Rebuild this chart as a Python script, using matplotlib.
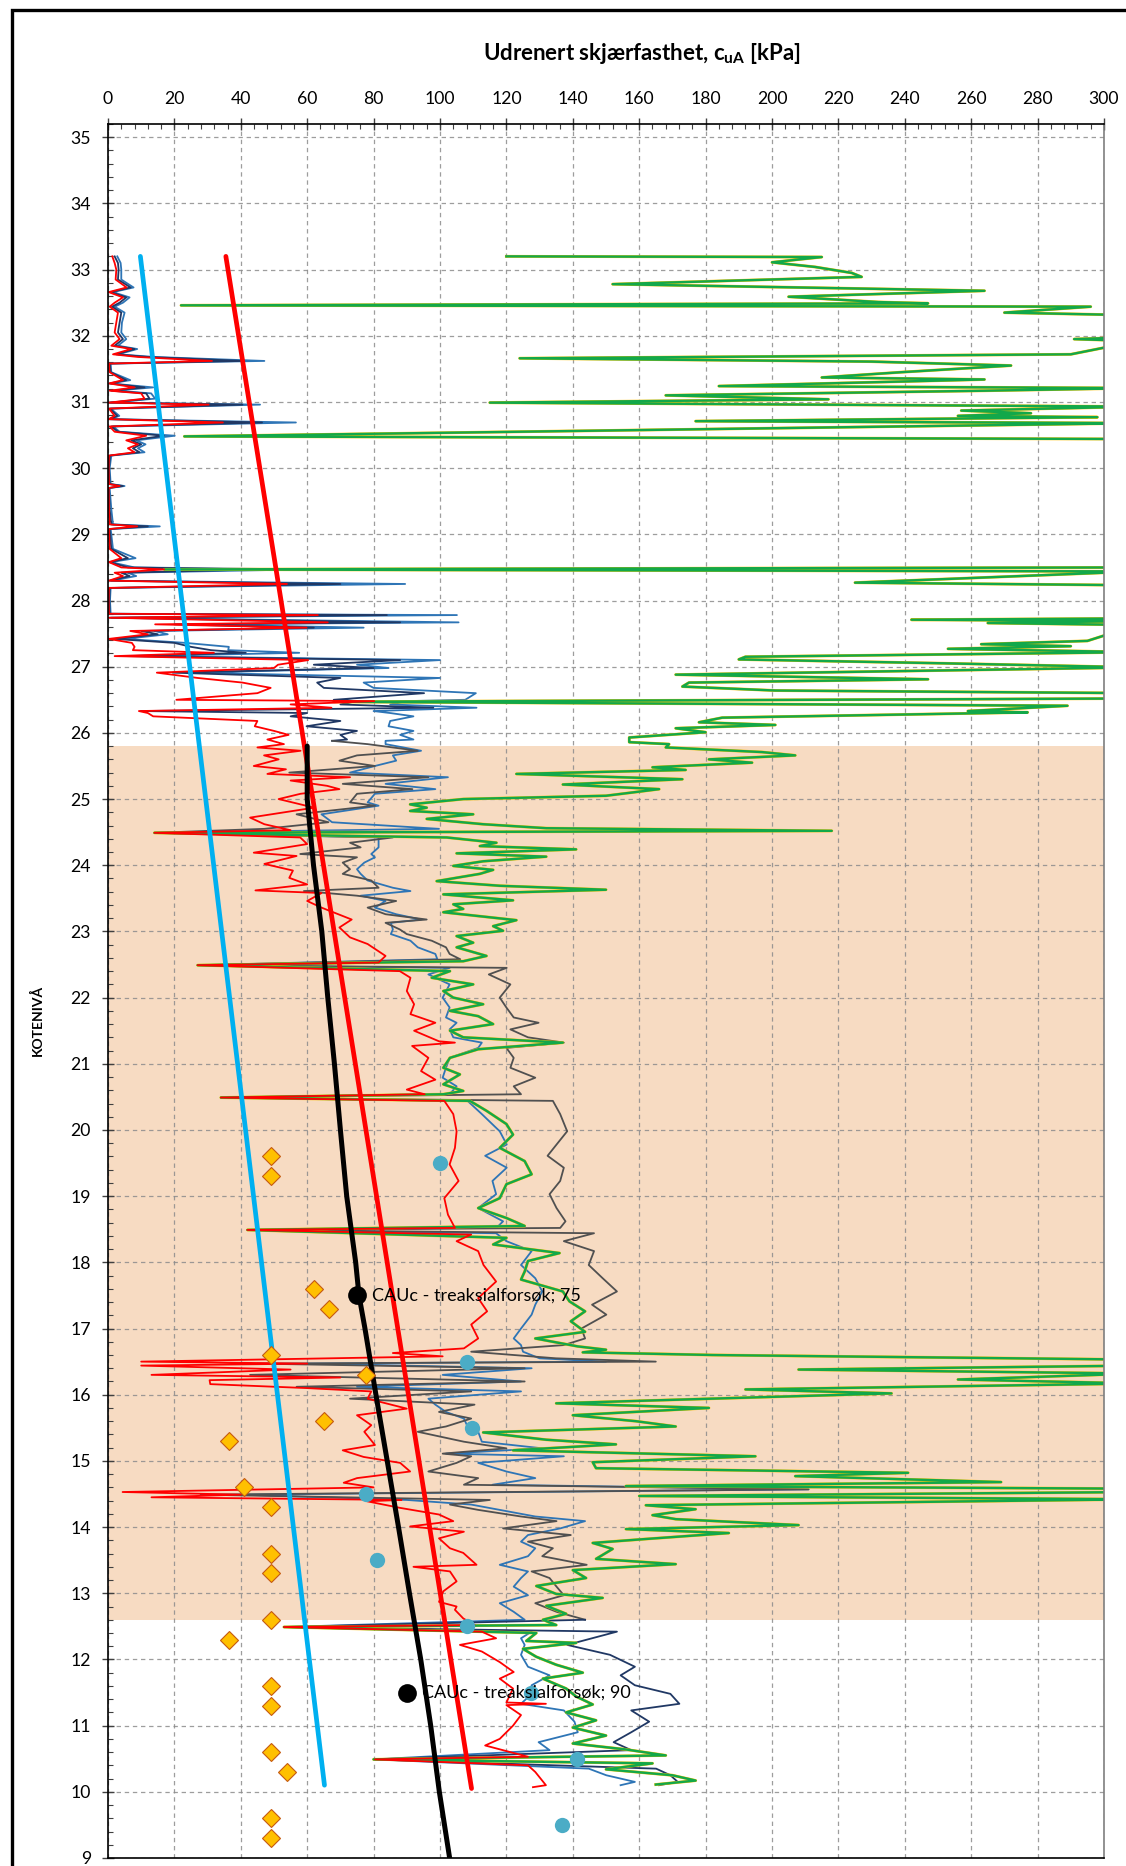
import numpy as np
import matplotlib
matplotlib.use("Agg")
import matplotlib.pyplot as plt
from matplotlib.patches import Rectangle
from matplotlib.ticker import MultipleLocator

plt.rcParams['font.family'] = ['Lato', 'DejaVu Sans']
plt.rcParams['mathtext.fontset'] = 'custom'
plt.rcParams['mathtext.rm'] = 'Lato'
plt.rcParams['mathtext.bf'] = 'Lato:bold'

# ---------- data ----------
# upper zone (33.2 - 25.9): red / navy / blue share one depth grid
d_top = [33.20, 33.10, 33.00, 32.85, 32.73, 32.66, 32.58, 32.50, 32.44, 32.35, 32.20, 32.05, 31.95, 31.85,
         31.80, 31.72, 31.68, 31.62, 31.58, 31.45, 31.33, 31.28, 31.22, 31.17, 31.13, 31.05, 30.99, 30.96,
         30.90, 30.79, 30.74, 30.69, 30.63, 30.55, 30.49, 30.42, 30.36, 30.30, 30.24, 30.19, 30.00, 29.76,
         29.73, 29.70, 29.38, 29.15, 29.12, 29.08, 28.78, 28.64, 28.58, 28.50, 28.47, 28.42, 28.37, 28.30,
         28.25, 28.19, 28.00, 27.80, 27.78, 27.74, 27.67, 27.64, 27.59, 27.54, 27.49, 27.42, 27.36, 27.30,
         27.25, 27.21, 27.16, 27.10, 27.03, 26.98, 26.91, 26.83, 26.76, 26.68, 26.60, 26.50, 26.48, 26.43,
         26.38, 26.33, 26.30, 26.25, 26.18, 26.10, 26.03, 25.97, 25.90]
red_top = [1.3, 2.0, 2.5, 2.3, 5.6, 0.2, 4.5, 2.0, 0.5, 3.0, 2.5, 2.0, 3.5, 1.0,
           7.0, 1.5, 9.0, 31.3, 0.3, 0.5, 4.5, 0.3, 8.0, 0.5, 10.0, 11.0, 0.2, 30.3,
           0.3, 2.0, 0.2, 34.6, 0.5, 2.0, 11.5, 5.5, 9.0, 6.0, 8.0, 0.3, 0.2, 0.3,
           3.5, 0.2, 0.3, 0.5, 8.8, 0.3, 0.5, 4.0, 0.3, 4.0, 16.9, 2.0, 4.5, 0.3,
           53.9, 0.3, 0.2, 0.3, 63.2, 0.2, 66.2, 14.2, 59.8, 6.7, 12.0, 0.2, 7.2, 8.0,
           7.5, 31.9, 2.0, 60.3, 51.2, 50.0, 14.7, 27.0, 40.5, 49.0, 45.0, 20.6, 80.2, 55.0,
           67.3, 9.3, 12.0, 13.6, 45.0, 44.2, 50.0, 54.4, 48.0]
navy_top = [2.0, 3.0, 3.2, 3.0, 6.8, 0.8, 5.5, 3.5, 1.2, 4.0, 3.5, 3.0, 4.5, 2.0,
            8.0, 2.5, 12.0, 40.5, 0.5, 0.8, 5.5, 0.5, 11.0, 1.0, 11.5, 12.5, 0.5, 40.5,
            0.5, 2.8, 0.4, 46.4, 1.0, 3.0, 16.9, 7.0, 10.0, 7.5, 9.5, 0.6, 0.3, 0.5,
            4.5, 0.3, 0.5, 1.0, 12.0, 0.5, 1.0, 6.0, 0.5, 6.0, 44.8, 4.0, 6.5, 0.5,
            70.0, 0.5, 0.4, 0.5, 84.0, 0.5, 88.0, 20.0, 62.0, 10.0, 15.0, 2.0, 20.0, 25.0,
            31.0, 41.5, 6.0, 88.0, 62.0, 80.0, 19.5, 70.0, 63.0, 65.0, 95.2, 68.0, 75.0, 70.0,
            98.0, 9.9, 60.0, 55.0, 70.0, 59.8, 75.0, 70.0, 72.0]
blue_top = [2.8, 3.8, 4.0, 4.0, 7.7, 1.5, 6.5, 4.5, 2.0, 5.0, 4.2, 4.0, 5.5, 3.0,
            8.8, 3.0, 14.0, 47.1, 0.8, 1.0, 6.7, 0.8, 13.6, 2.0, 13.0, 14.2, 0.8, 45.8,
            0.8, 3.4, 0.6, 56.6, 1.5, 3.5, 20.1, 8.5, 11.3, 9.0, 11.0, 1.0, 0.5, 0.8,
            5.0, 0.5, 1.0, 1.5, 15.6, 0.8, 1.5, 8.3, 0.8, 8.0, 58.4, 6.0, 8.5, 1.0,
            89.5, 0.8, 0.6, 0.8, 105.1, 1.0, 105.6, 25.0, 77.0, 14.0, 18.0, 5.0, 23.3, 36.4,
            36.2, 57.6, 10.0, 100.0, 75.0, 84.5, 25.4, 100.0, 77.0, 80.0, 110.8, 107.6, 90.0, 85.0,
            111.0, 80.0, 85.0, 92.0, 85.0, 84.5, 92.0, 88.0, 92.0]

# lower zone (25.9 - 10.1): gray/navy and blue share one depth grid
d_low = [25.88, 25.83, 25.73, 25.66, 25.58, 25.50, 25.40, 25.33, 25.23, 25.15, 25.08, 24.95, 24.90, 24.77,
         24.65, 24.55, 24.49, 24.42, 24.34, 24.27, 24.17, 24.12, 24.04, 23.94, 23.87, 23.77, 23.66, 23.61,
         23.54, 23.46, 23.36, 23.26, 23.18, 23.13, 23.03, 22.96, 22.86, 22.76, 22.66, 22.58, 22.49, 22.45,
         22.35, 22.20, 22.00, 21.85, 21.70, 21.62, 21.52, 21.40, 21.32, 21.24, 21.09, 20.94, 20.79, 20.66,
         20.54, 20.49, 20.44, 20.24, 19.98, 19.78, 19.61, 19.43, 19.23, 19.03, 18.82, 18.62, 18.52, 18.49,
         18.44, 18.32, 18.17, 17.96, 17.76, 17.56, 17.36, 17.21, 17.00, 16.85, 16.75, 16.65, 16.55, 16.50,
         16.47, 16.40, 16.30, 16.20, 16.12, 16.05, 15.94, 15.85, 15.74, 15.64, 15.52, 15.44, 15.29, 15.19,
         15.11, 15.07, 14.97, 14.84, 14.74, 14.64, 14.57, 14.49, 14.41, 14.34, 14.26, 14.16, 14.09, 13.98,
         13.88, 13.78, 13.68, 13.56, 13.43, 13.33, 13.23, 13.10, 12.97, 12.85, 12.72, 12.60, 12.49, 12.42,
         12.32, 12.22, 12.07, 11.89, 11.76, 11.61, 11.48, 11.33, 11.23, 11.06, 10.90, 10.75, 10.63, 10.49,
         10.35, 10.25, 10.15, 10.10]
gray_low = [67.5, 78.2, 93.3, 75.0, 69.7, 80.4, 54.6, 96.5, 70.7, 91.7, 75.0, 72.9, 80.4, 56.8,
            66.4, 47.1, 14.0, 85.8, 72.9, 76.1, 57.9, 75.0, 70.7, 72.9, 70.7, 79.3, 81.5, 59.0,
            75.0, 86.8, 78.2, 83.6, 96.0, 83.6, 87.9, 90.0, 97.5, 101.8, 102.9, 106.1, 27.0, 120.1,
            114.7, 121.2, 118.0, 120.0, 122.2, 129.7, 121.2, 126.5, 137.3, 120.0, 122.2, 121.2, 128.7, 122.2,
            124.4, 34.0, 134.0, 136.2, 138.3, 135.1, 132.4, 137.3, 136.2, 133.0, 135.1, 137.8, 136.2, 42.0,
            146.4, 137.3, 146.4, 144.8, 149.0, 153.3, 145.8, 150.1, 142.6, 143.7, 137.3, 109.4, 135.0, 165.0,
            45.0, 125.5, 42.8, 125.5, 56.8, 109.4, 72.9, 110.4, 99.7, 109.4, 101.8, 93.3, 107.2, 120.0,
            100.8, 109.4, 105.0, 96.5, 111.5, 107.2, 211.0, 27.9, 115.0, 103.0, 111.5, 124.4, 135.1, 119.0,
            139.4, 126.5, 134.0, 130.8, 144.2, 127.6, 133.0, 135.1, 137.3, 128.7, 135.1, 143.7, 53.0, 153.3,
            145.8, 138.3, 151.2, 158.7, 154.4, 158.7, 169.4, 172.1, 157.6, 163.0, 157.6, 152.3, 157.6, 80.0,
            165.1, 169.4, 171.6, 166.0]
blue_low = [83.6, 83.6, 94.3, 85.8, 86.8, 80.4, 72.9, 102.4, 83.6, 98.6, 80.4, 78.2, 81.5, 64.3,
            67.5, 99.7, 14.0, 81.5, 81.5, 81.5, 79.3, 80.4, 77.2, 75.0, 76.1, 78.2, 85.8, 91.1,
            76.1, 83.6, 80.4, 86.8, 94.3, 85.2, 85.8, 85.2, 91.1, 93.3, 98.6, 99.2, 27.0, 102.9,
            96.5, 102.9, 100.8, 102.9, 101.8, 105.0, 102.9, 104.0, 112.6, 111.5, 102.9, 101.8, 100.8, 105.0,
            102.9, 34.0, 108.3, 112.6, 118.0, 120.1, 113.6, 120.1, 115.8, 116.9, 111.5, 119.0, 117.0, 42.0,
            116.9, 120.0, 127.6, 124.4, 128.7, 130.8, 128.7, 127.6, 124.4, 122.2, 124.4, 125.0, 130.0, 150.0,
            60.0, 127.6, 100.8, 124.4, 75.0, 124.4, 96.5, 98.6, 101.8, 107.2, 108.3, 111.5, 112.6, 130.8,
            101.8, 137.3, 111.5, 120.0, 128.7, 115.8, 211.0, 40.0, 90.0, 109.4, 118.0, 128.7, 143.7, 136.2,
            126.5, 124.4, 128.7, 126.5, 118.0, 126.5, 124.4, 122.2, 126.5, 118.0, 122.2, 125.5, 53.0, 127.6,
            124.4, 125.5, 124.4, 126.5, 133.0, 127.6, 127.6, 124.4, 137.3, 140.5, 141.5, 129.7, 133.0, 80.0,
            144.8, 150.1, 158.7, 154.4]

# red trace below 25.9
d_red_low = [25.83, 25.78, 25.73, 25.66, 25.60, 25.50, 25.45, 25.38, 25.33, 25.28, 25.20, 25.15, 25.08, 25.00,
             24.87, 24.72, 24.62, 24.53, 24.49, 24.42, 24.32, 24.19, 24.14, 24.02, 23.92, 23.81, 23.71, 23.62,
             23.58, 23.46, 23.36, 23.18, 23.06, 22.91, 22.81, 22.63, 22.53, 22.49, 22.40, 22.30, 22.10, 21.90,
             21.75, 21.62, 21.50, 21.34, 21.32, 21.27, 21.09, 20.89, 20.76, 20.61, 20.54, 20.49, 20.44, 20.24,
             19.98, 19.73, 19.48, 19.23, 18.97, 18.72, 18.52, 18.49, 18.42, 18.32, 18.17, 17.96, 17.71, 17.46,
             17.26, 17.06, 16.85, 16.70, 16.63, 16.58, 16.50, 16.47, 16.44, 16.38, 16.30, 16.26, 16.22, 16.16,
             16.10, 16.05, 15.94, 15.79, 15.69, 15.54, 15.44, 15.24, 15.16, 15.06, 14.97, 14.84, 14.74, 14.67,
             14.60, 14.53, 14.49, 14.45, 14.41, 14.39, 14.29, 14.19, 14.09, 14.01, 13.93, 13.83, 13.68, 13.61,
             13.43, 13.40, 13.33, 13.18, 13.03, 12.87, 12.80, 12.75, 12.62, 12.52, 12.49, 12.42, 12.32, 12.22,
             12.12, 11.96, 11.81, 11.71, 11.56, 11.35, 11.33, 11.31, 11.16, 11.00, 10.80, 10.70, 10.53, 10.49,
             10.40, 10.30, 10.10, 10.07]
red_low = [53.0, 45.0, 58.0, 47.0, 51.4, 43.9, 53.6, 48.0, 72.9, 55.0, 66.0, 69.7, 58.0, 51.4,
           62.1, 42.8, 47.1, 55.0, 14.0, 57.9, 60.0, 43.9, 56.8, 47.1, 55.7, 54.6, 60.0, 44.4,
           64.3, 60.0, 64.3, 73.4, 69.7, 72.9, 78.2, 83.6, 81.5, 27.0, 87.9, 91.1, 90.0, 92.2,
           91.1, 98.6, 92.2, 99.7, 104.5, 91.6, 96.5, 94.3, 98.6, 90.0, 95.4, 34.0, 101.3, 104.0,
           105.0, 104.5, 102.9, 105.6, 101.3, 102.4, 104.5, 42.0, 109.4, 105.0, 111.5, 113.1, 116.9, 111.5,
           114.2, 109.4, 111.5, 107.2, 85.8, 100.8, 10.0, 60.0, 10.0, 55.0, 13.1, 70.0, 30.6, 30.8,
           60.0, 79.3, 78.2, 90.0, 75.0, 79.3, 77.2, 80.4, 70.7, 77.0, 88.0, 91.0, 75.0, 71.0,
           80.0, 4.4, 40.0, 13.1, 88.4, 78.0, 88.0, 99.7, 104.0, 91.0, 107.2, 99.7, 103.0, 107.0,
           111.0, 92.0, 103.0, 105.0, 101.0, 99.7, 105.0, 104.5, 107.0, 110.4, 53.0, 112.6, 116.9, 106.0,
           112.6, 118.0, 122.2, 118.0, 122.0, 120.0, 131.9, 120.0, 124.4, 122.0, 118.0, 113.6, 126.5, 80.4,
           126.5, 128.7, 131.9, 128.0]

# green (and orange underneath) trace
d_green = [33.20, 33.19, 33.11, 33.04, 32.95, 32.89, 32.78, 32.68, 32.59, 32.51, 32.49, 32.46, 32.44, 32.35,
           32.31, 31.98, 31.95, 31.92, 31.72, 31.66, 31.61, 31.57, 31.55, 31.45, 31.37, 31.34, 31.24, 31.21,
           31.17, 31.10, 31.04, 30.99, 30.93, 30.87, 30.83, 30.79, 30.77, 30.71, 30.68, 30.48, 30.44, 28.50,
           28.47, 28.44, 28.27, 28.23, 27.73, 27.71, 27.69, 27.66, 27.63, 27.39, 27.34, 27.31, 27.27, 27.22,
           27.15, 27.11, 27.05, 26.99, 26.88, 26.81, 26.76, 26.70, 26.64, 26.60, 26.52, 26.47, 26.41, 26.33,
           26.31, 26.23, 26.16, 26.12, 26.07, 26.01, 25.93, 25.86, 25.83, 25.78, 25.71, 25.66, 25.60, 25.55,
           25.48, 25.44, 25.38, 25.30, 25.22, 25.15, 25.05, 25.00, 24.92, 24.87, 24.82, 24.77, 24.70, 24.62,
           24.56, 24.52, 24.49, 24.42, 24.34, 24.29, 24.24, 24.18, 24.13, 24.06, 23.99, 23.93, 23.87, 23.76,
           23.69, 23.63, 23.56, 23.47, 23.41, 23.34, 23.29, 23.17, 23.08, 23.01, 22.93, 22.83, 22.76, 22.63,
           22.55, 22.49, 22.40, 22.30, 22.20, 22.10, 22.00, 21.90, 21.80, 21.72, 21.60, 21.50, 21.40, 21.32,
           21.22, 21.09, 20.94, 20.84, 20.69, 20.59, 20.54, 20.49, 20.44, 20.29, 20.09, 19.93, 19.73, 19.53,
           19.33, 19.18, 18.97, 18.82, 18.67, 18.55, 18.49, 18.37, 18.27, 18.14, 18.02, 17.86, 17.74, 17.56,
           17.41, 17.26, 17.11, 16.95, 16.85, 16.73, 16.68, 16.64, 16.60, 16.53, 16.44, 16.38, 16.32, 16.23,
           16.17, 16.08, 16.02, 15.96, 15.87, 15.80, 15.69, 15.60, 15.52, 15.43, 15.32, 15.25, 15.16, 15.07,
           14.98, 14.89, 14.82, 14.77, 14.68, 14.62, 14.58, 14.53, 14.47, 14.42, 14.33, 14.27, 14.18, 14.12,
           14.03, 13.97, 13.91, 13.82, 13.76, 13.67, 13.52, 13.44, 13.35, 13.23, 13.11, 12.99, 12.93, 12.81,
           12.69, 12.60, 12.52, 12.49, 12.40, 12.28, 12.25, 12.16, 12.04, 11.92, 11.80, 11.71, 11.56, 11.44,
           11.32, 11.20, 11.08, 10.97, 10.85, 10.73, 10.64, 10.55, 10.49, 10.43, 10.34, 10.25, 10.17, 10.11]
green_su = [120, 215, 200, 213, 224, 227, 152, 264, 205, 232, 247, 22, 296, 270,
            310, 310, 291, 310, 290, 124, 230, 258, 272, 239, 215, 264, 184, 310,
            264, 168, 217, 115, 310, 257, 278, 256, 298, 177, 310, 23, 310, 310,
            17, 310, 225, 310, 310, 242, 310, 265, 310, 295, 263, 290, 253, 310,
            192, 190, 253, 310, 171, 247, 175, 173, 201, 310, 310, 68, 289, 259,
            277, 185, 178, 201, 171, 180, 157, 157, 169, 168, 197, 207, 181, 194,
            164, 174, 123, 173, 137, 166, 150, 107, 91, 96, 91, 110, 96, 113,
            132, 218, 14, 102, 117, 112, 141, 105, 132, 113, 104, 116, 112, 99,
            118, 150, 101, 122, 104, 107, 101, 123, 116, 119, 105, 110, 105, 114,
            107, 27, 103, 97.5, 110, 101, 104, 113, 103, 111.5, 116, 103, 107, 137,
            111.5, 103, 101, 106, 101, 107, 101, 34, 109, 114, 120, 122, 118, 125.5,
            127.6, 120, 118, 111.5, 120, 125.5, 42, 120, 116, 136, 126.5, 125.5, 124.4, 137,
            139, 143.7, 139.4, 143.7, 128.7, 141.5, 150, 143, 182, 310, 310, 208, 310, 256,
            310, 192, 236, 195, 135, 181, 140, 159, 171, 113, 132, 153, 122, 195,
            146, 147, 241, 207, 269, 156, 310, 310, 160, 310, 162, 177, 164, 171,
            208, 156, 187, 162, 146, 152, 147, 171, 140, 144, 129, 135, 149, 132,
            138, 131, 135, 53, 129, 126, 141, 125, 129, 135, 143, 131, 138, 141,
            146, 138, 147, 140, 150, 140, 156, 168, 80, 164, 150, 170, 177, 165]

# interpreted design lines
lightblue_d = [33.2, 10.1]
lightblue_su = [9.75, 65.2]
redline_d = [33.2, 10.05]
redline_su = [35.5, 109.5]
black_d = [25.8, 25.0, 24.0, 23.0, 22.0, 21.0, 20.0, 19.0, 18.0, 17.5, 17.0, 16.0, 15.0, 14.0,
           13.0, 12.0, 11.0, 10.0, 9.0]
black_su = [60.0, 60.0, 61.9, 64.4, 66.2, 68.2, 70.0, 71.9, 74.6, 75.6, 77.4, 80.7, 84.1, 87.5,
            90.8, 94.2, 97.2, 99.8, 102.9]

# lab results
diamond_d = [19.6, 19.3, 17.6, 17.3, 16.6, 16.3, 15.6, 15.3, 14.6, 14.3, 13.6, 13.3, 12.6, 12.3,
             11.6, 11.3, 10.6, 10.3, 9.6, 9.3]
diamond_su = [49, 49, 62, 66.6, 49, 77.6, 65, 36.4, 41, 49, 49, 49, 49, 36.4,
              49, 49, 49, 54, 49, 49]
circle_d = [19.5, 16.5, 15.5, 14.5, 13.5, 12.5, 11.5, 10.5, 9.5]
circle_su = [100, 108, 109.5, 77.6, 81, 108, 127.4, 141.2, 136.6]
cauc_d = [17.5, 11.5]
cauc_su = [75, 90]
cauc_labels = ["CAUc - treaksialforsøk; 75", "CAUc - treaksialforsøk; 90"]

layer_top, layer_bot = 25.8, 12.6

# ---------- plot ----------
fig = plt.figure(figsize=(11.26, 18.66), dpi=100)
ax = fig.add_axes([108 / 1126, 1 - 1858 / 1866, 996 / 1126, (1858 - 124) / 1866])

ax.axhspan(layer_bot, layer_top, color='#F7DBC2', zorder=0.4, lw=0)

d_dark = np.array(d_top + d_low)
dark_su = np.array(navy_top + gray_low)
m_top = d_dark >= 25.88
m_mid = (d_dark <= 25.88) & (d_dark >= 12.60)
m_bot = d_dark <= 12.60

ax.plot(blue_top + blue_low, d_top + d_low, color='#2E75B6', lw=1.3, zorder=2)
ax.plot(dark_su[m_top], d_dark[m_top], color='#203864', lw=1.3, zorder=2.1)
ax.plot(dark_su[m_mid], d_dark[m_mid], color='#505050', lw=1.3, zorder=2.1)
ax.plot(dark_su[m_bot], d_dark[m_bot], color='#203864', lw=1.3, zorder=2.1)
ax.plot(green_su, d_green, color='#FFC000', lw=2.1, zorder=2.2)
ax.plot(green_su, d_green, color='#12A84A', lw=1.7, zorder=2.3)
ax.plot(red_top + red_low, d_top + d_red_low, color='#FF0000', lw=1.3, zorder=2.4)

ax.plot(lightblue_su, lightblue_d, color='#00B0F0', lw=3.4, solid_capstyle='round', zorder=3)
ax.plot(redline_su, redline_d, color='#FF0000', lw=3.4, solid_capstyle='round', zorder=3)
ax.plot(black_su, black_d, color='black', lw=3.6, solid_capstyle='round', zorder=3.1)

ax.plot(diamond_su, diamond_d, 'D', ms=9, mfc='#FFC000', mec='#C55A11', mew=0.8, ls='none', zorder=4)
ax.plot(circle_su, circle_d, 'o', ms=11, mfc='#4BACC6', mec='none', ls='none', zorder=4)
ax.plot(cauc_su, cauc_d, 'o', ms=13.5, mfc='black', mec='none', ls='none', zorder=4.2)
for x, y, s in zip(cauc_su, cauc_d, cauc_labels):
    ax.annotate(s, (x, y), xytext=(11, 0), textcoords='offset points', va='center', ha='left',
                fontsize=13, zorder=5)

ax.set_xlim(0, 300)
ax.set_ylim(9, 35.2)
ax.xaxis.tick_top()
ax.xaxis.set_major_locator(MultipleLocator(20))
ax.xaxis.set_minor_locator(MultipleLocator(4))
ax.yaxis.set_major_locator(MultipleLocator(1))
ax.yaxis.set_minor_locator(MultipleLocator(0.2))
ax.tick_params(which='major', direction='inout', length=8.5, width=1, labelsize=12.7, pad=8,
               color='#404040')
ax.tick_params(which='minor', direction='in', length=3.6, width=0.8, color='#404040')
ax.tick_params(axis='x', which='both', top=True, bottom=False)
ax.tick_params(axis='y', which='both', left=True, right=False)

ax.grid(True, which='major', color='#8C8C8C', lw=0.9, ls=(0, (3.5, 3)), alpha=0.85)

for side in ['top', 'bottom', 'left']:
    ax.spines[side].set_color('black')
    ax.spines[side].set_linewidth(1.2)
ax.spines['right'].set_color('#7F7F7F')
ax.spines['right'].set_linewidth(1.2)

fig.text(642 / 1126, 1 - 53 / 1866, r"Udrenert skjærfasthet, c$_\mathbf{uA}$ [kPa]",
         ha='center', va='center', fontsize=16, fontweight='bold')
fig.text(37 / 1126, 1 - 1020 / 1866, "KOTENIVÅ", rotation=90, ha='center', va='center',
         fontsize=10, fontweight='bold')

# chart-area frame: left and top edges visible, the rest runs off the picture
frame_x0, frame_top = 12 / 1126, 1 - 10 / 1866
fig.add_artist(Rectangle((frame_x0, -0.2), 1.2, frame_top + 0.2, transform=fig.transFigure,
                         fill=False, ec='black', lw=2.4))

fig.savefig('out.png', dpi=100)
